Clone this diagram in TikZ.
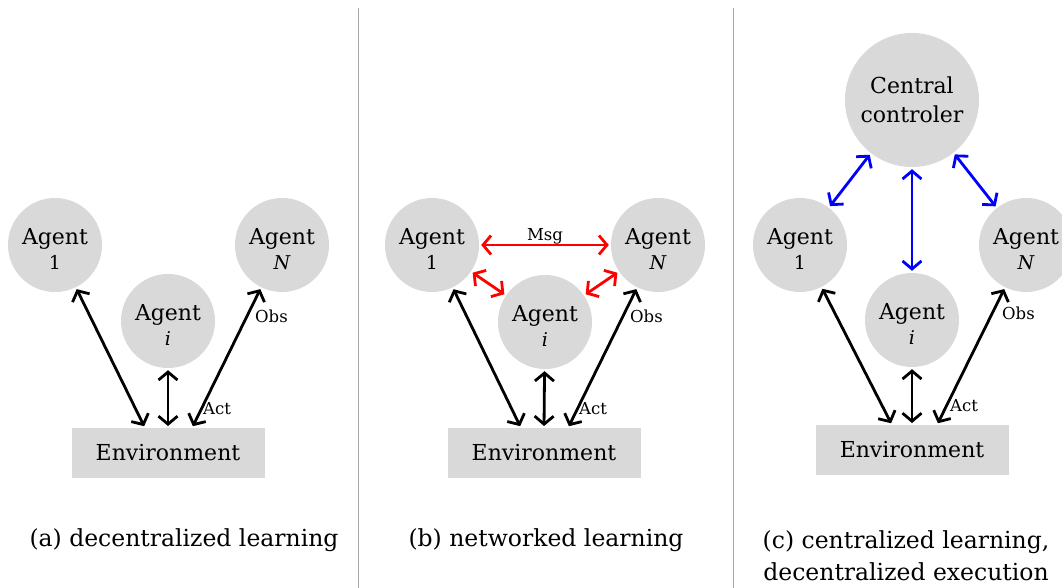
\documentclass[tikz,border=0pt]{standalone}
\usepackage{fontspec}
\setmainfont{DejaVu Serif}
\usetikzlibrary{arrows.meta}
\definecolor{nodegray}{HTML}{D9D9D9}
\definecolor{sepgray}{HTML}{A6A6A6}
\definecolor{msgred}{HTML}{FF0000}
\definecolor{ctlblue}{HTML}{0000FF}
\newcommand{\agtxt}[1]{\rule{0pt}{24pt}Agent\\{\fontsize{19}{19}\selectfont #1}}
\begin{document}
\begin{tikzpicture}[x=1pt,y=-1pt,
  agent/.style={circle,fill=nodegray,minimum size=94pt,inner sep=0pt,align=center,
    font=\fontsize{22}{25}\selectfont},
  central/.style={agent,minimum size=134pt,font=\fontsize{22}{29}\selectfont},
  envbox/.style={rectangle,fill=nodegray,minimum width=193pt,minimum height=50pt,
    inner sep=0pt,font=\fontsize{22}{28}\selectfont},
  link/.style={<->,line width=2.8pt,>={Straight Barb[length=8pt,width=19pt]},
    shorten <=2pt,shorten >=2pt},
  blacklink/.style={link,black},
  redlink/.style={link,msgred},
  bluelink/.style={link,ctlblue},
  lab/.style={inner sep=0pt,font=\fontsize{16.5}{16.5}\selectfont},
  caption/.style={align=center,inner sep=0pt,font=\fontsize{23.5}{32}\selectfont},
  sep/.style={sepgray,line width=1pt}
]
\useasboundingbox (0,0) rectangle (1062,588);
\fill[white] (0,0) rectangle (1062,588);

% separators
\coordinate (s1t) at (358,8); \coordinate (s1b) at (358,588);
\coordinate (s2t) at (733,8); \coordinate (s2b) at (733,588);
\draw[sep] (s1t) -- (s1b);
\draw[sep] (s2t) -- (s2b);

% ---------- panel (a)
\node[agent] (a1) at (55,245) {\agtxt{1}};
\node[agent] (ai) at (168,321) {\agtxt{\itshape i}};
\node[agent] (aN) at (282,245) {\agtxt{\itshape N}};
\node[envbox] (aenv) at (168,453) {Environment};
\coordinate (ae1) at (145,428);
\coordinate (aei) at (168,428);
\coordinate (aeN) at (192,428);
\draw[blacklink] (a1) -- (ae1);
\draw[blacklink] (ai) -- (aei);
\draw[blacklink] (aN) -- (aeN);
\node[lab,anchor=west] (aobs) at (255,316) {Obs};
\node[lab,anchor=west] (aact) at (203,409) {Act};
\node[caption] (capa) at (184,540) {(a) decentralized learning};

% ---------- panel (b)
\node[agent] (b1) at (432,245) {\agtxt{1}};
\node[agent] (bi) at (545,322) {\agtxt{\itshape i}};
\node[agent] (bN) at (658,245) {\agtxt{\itshape N}};
\node[envbox] (benv) at (544,453) {Environment};
\coordinate (be1) at (521,428);
\coordinate (bei) at (544,428);
\coordinate (beN) at (568,428);
\draw[blacklink] (b1) -- (be1);
\draw[blacklink] (bi) -- (bei);
\draw[blacklink] (bN) -- (beN);
\draw[redlink] (b1) -- (bN);
\draw[redlink] (b1) -- (bi);
\draw[redlink] (bN) -- (bi);
\node[lab] (bmsg) at (545,236) {Msg};
\node[lab,anchor=west] (bobs) at (630,316) {Obs};
\node[lab,anchor=west] (bact) at (579,409) {Act};
\node[caption] (capb) at (546,540) {(b) networked learning};

% ---------- panel (c)
\node[central] (cc) at (912,100) {Central\\controler};
\node[agent] (c1) at (800,245) {\agtxt{1}};
\node[agent] (ci) at (912,320) {\agtxt{\itshape i}};
\node[agent] (cN) at (1026,245) {\agtxt{\itshape N}};
\node[envbox] (cenv) at (912,450) {Environment};
\coordinate (ce1) at (892,425);
\coordinate (cei) at (912,425);
\coordinate (ceN) at (937,425);
\draw[blacklink] (c1) -- (ce1);
\draw[blacklink] (ci) -- (cei);
\draw[blacklink] (cN) -- (ceN);
\draw[bluelink] (cc) -- (c1);
\draw[bluelink] (cc) -- (ci);
\draw[bluelink] (cc) -- (cN);
\node[lab,anchor=west] (cobs) at (1002,313) {Obs};
\node[lab,anchor=west] (cact) at (950,406) {Act};
\node[caption] (capc) at (906,556) {(c) centralized learning,\\decentralized execution};
\end{tikzpicture}
\end{document}
